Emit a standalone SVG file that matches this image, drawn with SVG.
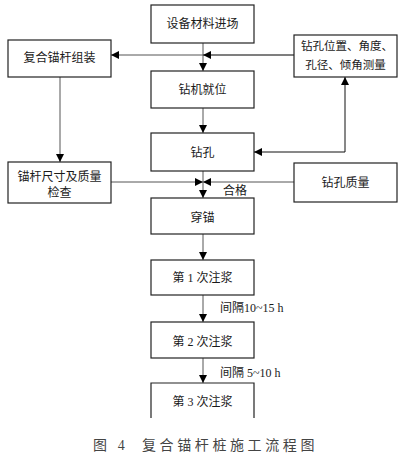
<svg xmlns="http://www.w3.org/2000/svg" width="404" height="457" viewBox="0 0 404 457">
<style>
.box{fill:#fff;stroke:#222;stroke-width:1.2}
.t{font-family:"Liberation Serif","Noto Sans CJK SC",serif;font-size:12px;fill:#1a1a1a;text-anchor:middle;dominant-baseline:central}
.s{font-size:11.5px}
.lbl{font-family:"Liberation Serif","Noto Sans CJK SC",serif;font-size:12px;fill:#1a1a1a;dominant-baseline:central}
.c{fill:none;stroke:#555;stroke-width:1}
.cap{font-family:"Liberation Serif","Noto Sans CJK SC",serif;font-size:14px;fill:#444;dominant-baseline:central;letter-spacing:3.6px}
</style>
<defs>
<marker id="ah" viewBox="0 0 10 10" refX="10" refY="5" markerWidth="8" markerHeight="8" markerUnits="userSpaceOnUse" orient="auto">
<path d="M0,0 L10,5 L0,10 Z" fill="#000"/>
</marker>
</defs>
<rect width="404" height="457" fill="#fff"/>
<g id="connectors">
<path class="c" d="M203,43 V71" marker-end="url(#ah)"/>
<path class="c" d="M294,55 H111" marker-end="url(#ah)"/>
<path class="c" d="M294,55 H203" marker-end="url(#ah)"/>
<path class="c" d="M203,108 V133" marker-end="url(#ah)"/>
<path class="c" d="M345,152 H254" marker-end="url(#ah)" style="stroke:#111"/>
<path class="c" d="M345,152 V77" marker-end="url(#ah)" style="stroke:#111"/>
<path class="c" d="M60,77 V162" marker-end="url(#ah)"/>
<path class="c" d="M111,182 H203" marker-end="url(#ah)"/>
<path class="c" d="M294,182 H203" marker-end="url(#ah)"/>
<path class="c" d="M203,171 V198" marker-end="url(#ah)"/>
<path class="c" d="M203,234 V260" marker-end="url(#ah)"/>
<path class="c" d="M203,295 V322" marker-end="url(#ah)"/>
<path class="c" d="M203,358 V383" marker-end="url(#ah)"/>
</g>
<g id="n1"><rect class="box" x="151" y="5" width="103" height="38"/><text class="t" x="202.5" y="24">设备材料进场</text></g>
<g id="n2"><rect class="box" x="8" y="40" width="103" height="37"/><text class="t" x="59.5" y="58">复合锚杆组装</text></g>
<g id="n3"><rect class="box" x="294" y="35" width="103" height="42"/><text class="t s" x="347" y="46">钻孔位置、角度、</text><text class="t s" x="345.5" y="65">孔径、倾角测量</text></g>
<g id="n4"><rect class="box" x="151" y="71" width="103" height="37"/><text class="t" x="202.5" y="90">钻机就位</text></g>
<g id="n5"><rect class="box" x="151" y="133" width="103" height="38"/><text class="t" x="202.5" y="153">钻孔</text></g>
<g id="n6"><rect class="box" x="8" y="162" width="103" height="41"/><text class="t" x="59.5" y="177">锚杆尺寸及质量</text><text class="t" x="59.5" y="193">检查</text></g>
<g id="n7"><rect class="box" x="294" y="163" width="103" height="39"/><text class="t" x="345.5" y="183">钻孔质量</text></g>
<text class="lbl" x="223" y="191">合格</text>
<g id="n8"><rect class="box" x="151" y="198" width="103" height="36"/><text class="t" x="202.5" y="218">穿锚</text></g>
<g id="n9"><rect class="box" x="151" y="260" width="103" height="35"/><text class="t" x="202.5" y="278">第 1 次注浆</text></g>
<text class="lbl" x="220" y="308">间隔10~15 h</text>
<g id="n10"><rect class="box" x="151" y="322" width="103" height="36"/><text class="t" x="202.5" y="342">第 2 次注浆</text></g>
<text class="lbl" x="220" y="373">间隔 5~10 h</text>
<g id="n11"><path class="box" d="M151,418 V383 H254 V418"/><text class="t" x="202.5" y="402">第 3 次注浆</text></g>
<text class="cap" x="93" y="445">图 4</text>
<text class="cap" x="142" y="445">复合锚杆桩施工流程图</text>
</svg>
